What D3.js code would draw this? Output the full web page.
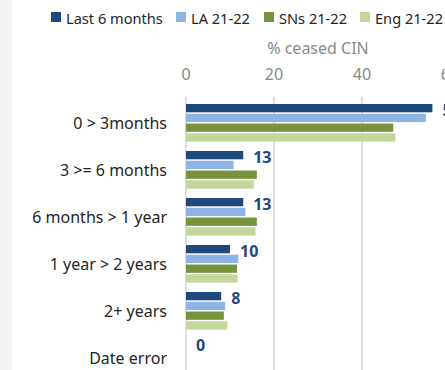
<!DOCTYPE html>
<html>
<head>
<meta charset="utf-8">
<script src="https://cdn.jsdelivr.net/npm/d3@7"></script>
<style>
  html, body { margin: 0; padding: 0; background: #ffffff; }
  svg { display: block; }
  text { font-family: "Segoe UI", "Noto Sans", "Open Sans", sans-serif; }
</style>
</head>
<body>
<svg id="chart" width="445" height="370"></svg>
<script>
// Duration bands for ceased CIN episodes
const categories = ["0 > 3months", "3 >= 6 months", "6 months > 1 year", "1 year > 2 years", "2+ years", "Date error"];
const seriesNames = ["Last 6 months", "LA 21-22", "SNs 21-22", "Eng 21-22"];
const last6Months = [56, 13, 13, 10, 8, 0];
const la2122 = [54.5, 10.8, 13.5, 11.9, 8.9, 0];
const sns2122 = [47.1, 16.1, 16.1, 11.6, 8.6, 0];
const eng2122 = [47.6, 15.4, 15.8, 11.7, 9.4, 0];
const xTicks = [0, 20, 40, 60];
const axisTitle = "% ceased CIN";
const colors = ["#1f497d", "#8db4e2", "#77933c", "#c4d79b"];

const seriesValues = [last6Months, la2122, sns2122, eng2122];

const svg = d3.select("#chart");
const W = 445, H = 370;

// grey side strip
svg.append("rect").attr("x", 0).attr("y", 0).attr("width", 12).attr("height", H).attr("fill", "#f2f2f2");

const x = d3.scaleLinear().domain([0, 60]).range([186, 450]);
const y = d3.scaleBand().domain(categories).range([94.6, 386]).paddingInner(0.2).paddingOuter(0.2);
const ySub = d3.scaleBand().domain(seriesNames).range([0, y.bandwidth()]).paddingInner(0.15);

// gridlines
svg.append("g").selectAll("line").data(xTicks).join("line")
  .attr("x1", d => x(d)).attr("x2", d => x(d))
  .attr("y1", 97).attr("y2", H)
  .attr("stroke", "#d4d4d4").attr("stroke-width", 1.5);

// tick labels
svg.append("g").selectAll("text").data(xTicks).join("text")
  .attr("x", d => x(d)).attr("y", 74)
  .attr("text-anchor", "middle").attr("dominant-baseline", "central")
  .attr("font-size", 16).attr("fill", "#8a8a8a")
  .text(d => d);

svg.append("text")
  .attr("x", (x(0) + x(60)) / 2).attr("y", 48)
  .attr("text-anchor", "middle").attr("dominant-baseline", "central")
  .attr("font-size", 16).attr("fill", "#8a8a8a")
  .text(axisTitle);

// bars
const groups = svg.append("g").selectAll("g").data(categories).join("g")
  .attr("transform", d => `translate(0,${y(d)})`);

groups.selectAll("rect").data((c, i) => seriesNames.map((s, k) => ({ s, k, v: seriesValues[k][i] })))
  .join("rect")
  .attr("x", x(0))
  .attr("y", d => ySub(d.s))
  .attr("width", d => x(d.v) - x(0))
  .attr("height", ySub.bandwidth())
  .attr("fill", d => colors[d.k]);

// value labels on the latest series
svg.append("g").selectAll("text").data(categories).join("text")
  .attr("x", (c, i) => x(last6Months[i]) + 10)
  .attr("y", c => y(c) + ySub(seriesNames[0]) + ySub.bandwidth() / 2 + 2)
  .attr("dominant-baseline", "central")
  .attr("font-size", 16).attr("font-weight", "bold").attr("fill", "#1f497d")
  .text((c, i) => d3.format("d")(last6Months[i]));

// category labels
svg.append("g").selectAll("text").data(categories).join("text")
  .attr("x", 167)
  .attr("y", c => y(c) + y.bandwidth() / 2)
  .attr("text-anchor", "end").attr("dominant-baseline", "central")
  .attr("font-size", 16).attr("fill", "#252525")
  .text(c => c);

// legend
const legendX = [51, 176, 264, 360];
const legend = svg.append("g").selectAll("g").data(seriesNames).join("g")
  .attr("transform", (d, i) => `translate(${legendX[i]},12)`);
legend.append("rect").attr("width", 10).attr("height", 10).attr("fill", (d, i) => colors[i]);
legend.append("text").attr("x", 15).attr("y", 5.5)
  .attr("dominant-baseline", "central")
  .attr("font-size", 14.6).attr("fill", "#252525")
  .text(d => d);
</script>
</body>
</html>
